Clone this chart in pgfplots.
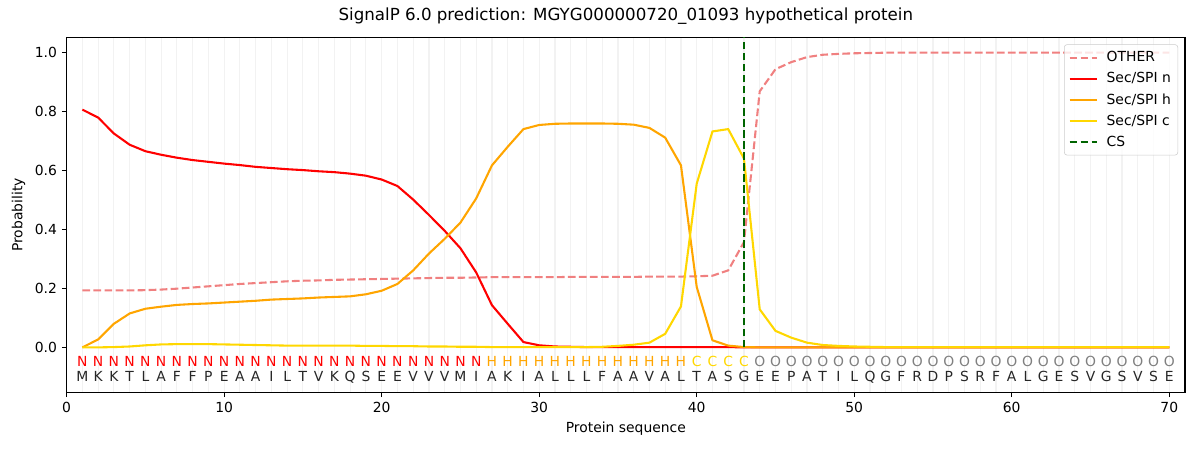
\documentclass[border=0pt]{standalone}
\usepackage{fontspec}
\setmainfont{DejaVu Sans}
\usepackage{pgfplots}
\pgfplotsset{compat=1.18}
\definecolor{lightcoral}{RGB}{240,128,128}
\definecolor{mporange}{RGB}{255,165,0}
\definecolor{mpgold}{RGB}{255,215,0}
\definecolor{mpgreen}{RGB}{0,100,0}
\definecolor{mpgray}{RGB}{128,128,128}
\begin{document}
\begin{tikzpicture}
\useasboundingbox (-48pt,-41.5pt) rectangle (816pt,282.5pt);
\begin{axis}[
  at={(0,0)}, anchor=south west,
  scale only axis, width=805.2pt, height=255.6pt,
  xmin=0, xmax=71, ymin=-0.1525, ymax=1.051,
  xtick={0,10,20,30,40,50,60,70},
  ytick={0,0.2,0.4,0.6,0.8,1.0},
  minor xtick={1,2,3,4,5,6,7,8,9,10,11,12,13,14,15,16,17,18,19,20,21,22,23,24,25,26,27,28,29,30,31,32,33,34,35,36,37,38,39,40,41,42,43,44,45,46,47,48,49,50,51,52,53,54,55,56,57,58,59,60,61,62,63,64,65,66,67,68,69,70},
  xminorgrids=true, minor tick length=0pt,
  minor grid style={color=black!5, line width=0.8pt},
  tick align=outside, major tick length=3.5pt,
  every tick/.style={black, line width=0.8pt},
  xtick pos=bottom, ytick pos=left,
  axis line style={line width=0.8pt},
  /pgf/number format/assume math mode=true,
  ticklabel style={font=\fontsize{10}{12}\selectfont},
  yticklabel style={/pgf/number format/.cd, fixed, fixed zerofill, precision=1},
  xlabel={Protein sequence}, ylabel={Probability},
  label style={font=\fontsize{10}{12}\selectfont},
  title={SignalP 6.0 prediction: MGYG000000720\_01093 hypothetical protein},
  title style={font=\fontsize{12}{14}\selectfont},
  legend style={at={(1,1)}, anchor=north east, xshift=-5pt, yshift=-5pt,
    draw=black!20, rounded corners=2pt, fill=white, fill opacity=0.8, text opacity=1,
    font=\fontsize{10}{12}\selectfont, row sep=2.2pt, inner xsep=3pt, inner ysep=3pt,
    /tikz/every odd column/.append style={column sep=4pt}},
  legend cell align=left,
  legend image code/.code={\draw[#1] (0pt,0pt) -- (20pt,0pt);},
]
\addplot[lightcoral, line width=1.5pt, dash pattern=on 5.55pt off 2.4pt] table {
1 0.193
2 0.193
3 0.193
4 0.193
5 0.194
6 0.196
7 0.199
8 0.203
9 0.207
10 0.211
11 0.215
12 0.218
13 0.221
14 0.224
15 0.226
16 0.227
17 0.229
18 0.230
19 0.231
20 0.232
21 0.233
22 0.234
23 0.235
24 0.236
25 0.236
26 0.237
27 0.238
28 0.238
29 0.238
30 0.238
31 0.238
32 0.239
33 0.239
34 0.239
35 0.239
36 0.239
37 0.240
38 0.240
39 0.240
40 0.241
41 0.243
42 0.261
43 0.357
44 0.868
45 0.943
46 0.967
47 0.984
48 0.992
49 0.995
50 0.997
51 0.998
52 0.999
53 0.999
54 0.999
55 0.999
56 0.999
57 0.999
58 0.999
59 0.999
60 0.999
61 0.999
62 0.999
63 0.999
64 0.999
65 0.999
66 0.999
67 0.999
68 0.999
69 0.999
70 0.999
};
\addlegendentry{OTHER}
\addplot[red, line width=1.5pt] table {
1 0.806
2 0.779
3 0.725
4 0.687
5 0.665
6 0.653
7 0.643
8 0.635
9 0.629
10 0.623
11 0.618
12 0.612
13 0.608
14 0.604
15 0.601
16 0.597
17 0.594
18 0.589
19 0.582
20 0.569
21 0.547
22 0.501
23 0.449
24 0.395
25 0.336
26 0.254
27 0.143
28 0.080
29 0.018
30 0.007
31 0.003
32 0.002
33 0.001
34 0.001
35 0.001
36 0.001
37 0.001
38 0.001
39 0.001
40 0.001
41 0.001
42 0.001
43 0.000
44 0.000
45 0.000
46 0.000
47 0.000
48 0.000
49 0.000
50 0.000
51 0.000
52 0.000
53 0.000
54 0.000
55 0.000
56 0.000
57 0.000
58 0.000
59 0.000
60 0.000
61 0.000
62 0.000
63 0.000
64 0.000
65 0.000
66 0.000
67 0.000
68 0.000
69 0.000
70 0.000
};
\addlegendentry{Sec/SPI n}
\addplot[mporange, line width=1.5pt] table {
1 0.000
2 0.027
3 0.080
4 0.115
5 0.131
6 0.138
7 0.144
8 0.147
9 0.149
10 0.152
11 0.155
12 0.158
13 0.162
14 0.164
15 0.166
16 0.169
17 0.171
18 0.173
19 0.180
20 0.192
21 0.215
22 0.261
23 0.318
24 0.368
25 0.423
26 0.505
27 0.617
28 0.680
29 0.740
30 0.754
31 0.758
32 0.759
33 0.759
34 0.759
35 0.758
36 0.755
37 0.744
38 0.711
39 0.617
40 0.205
41 0.024
42 0.006
43 0.001
44 0.000
45 0.000
46 0.000
47 0.000
48 0.000
49 0.000
50 0.000
51 0.000
52 0.000
53 0.000
54 0.000
55 0.000
56 0.000
57 0.000
58 0.000
59 0.000
60 0.000
61 0.000
62 0.000
63 0.000
64 0.000
65 0.000
66 0.000
67 0.000
68 0.000
69 0.000
70 0.000
};
\addlegendentry{Sec/SPI h}
\addplot[mpgold, line width=1.5pt] table {
1 0.000
2 0.000
3 0.001
4 0.003
5 0.007
6 0.010
7 0.011
8 0.011
9 0.011
10 0.010
11 0.009
12 0.008
13 0.007
14 0.006
15 0.006
16 0.006
17 0.006
18 0.006
19 0.005
20 0.005
21 0.004
22 0.004
23 0.003
24 0.003
25 0.002
26 0.002
27 0.001
28 0.001
29 0.001
30 0.001
31 0.001
32 0.001
33 0.001
34 0.002
35 0.005
36 0.009
37 0.016
38 0.046
39 0.139
40 0.555
41 0.732
42 0.740
43 0.640
44 0.129
45 0.056
46 0.033
47 0.016
48 0.008
49 0.005
50 0.003
51 0.002
52 0.001
53 0.001
54 0.001
55 0.001
56 0.001
57 0.001
58 0.001
59 0.001
60 0.001
61 0.001
62 0.001
63 0.001
64 0.001
65 0.001
66 0.001
67 0.001
68 0.001
69 0.001
70 0.001
};
\addlegendentry{Sec/SPI c}
\addplot[mpgreen, line width=1.5pt, dash pattern=on 5.55pt off 2.4pt] coordinates {(43,0) (43,1.051)};
\addlegendentry{CS}
% region labels
\addplot[forget plot, draw=none, mark=none, nodes near coords, point meta=explicit symbolic,
  every node near coord/.style={anchor=base, inner sep=0pt, text=red, font=\fontsize{10}{12}\selectfont}]
  table[meta=l] {
x y l
1 -0.064 N
2 -0.064 N
3 -0.064 N
4 -0.064 N
5 -0.064 N
6 -0.064 N
7 -0.064 N
8 -0.064 N
9 -0.064 N
10 -0.064 N
11 -0.064 N
12 -0.064 N
13 -0.064 N
14 -0.064 N
15 -0.064 N
16 -0.064 N
17 -0.064 N
18 -0.064 N
19 -0.064 N
20 -0.064 N
21 -0.064 N
22 -0.064 N
23 -0.064 N
24 -0.064 N
25 -0.064 N
26 -0.064 N
};
\addplot[forget plot, draw=none, mark=none, nodes near coords, point meta=explicit symbolic,
  every node near coord/.style={anchor=base, inner sep=0pt, text=mporange, font=\fontsize{10}{12}\selectfont}]
  table[meta=l] {
x y l
27 -0.064 H
28 -0.064 H
29 -0.064 H
30 -0.064 H
31 -0.064 H
32 -0.064 H
33 -0.064 H
34 -0.064 H
35 -0.064 H
36 -0.064 H
37 -0.064 H
38 -0.064 H
39 -0.064 H
};
\addplot[forget plot, draw=none, mark=none, nodes near coords, point meta=explicit symbolic,
  every node near coord/.style={anchor=base, inner sep=0pt, text=mpgold, font=\fontsize{10}{12}\selectfont}]
  table[meta=l] {
x y l
40 -0.064 C
41 -0.064 C
42 -0.064 C
43 -0.064 C
};
\addplot[forget plot, draw=none, mark=none, nodes near coords, point meta=explicit symbolic,
  every node near coord/.style={anchor=base, inner sep=0pt, text=mpgray, font=\fontsize{10}{12}\selectfont}]
  table[meta=l] {
x y l
44 -0.064 O
45 -0.064 O
46 -0.064 O
47 -0.064 O
48 -0.064 O
49 -0.064 O
50 -0.064 O
51 -0.064 O
52 -0.064 O
53 -0.064 O
54 -0.064 O
55 -0.064 O
56 -0.064 O
57 -0.064 O
58 -0.064 O
59 -0.064 O
60 -0.064 O
61 -0.064 O
62 -0.064 O
63 -0.064 O
64 -0.064 O
65 -0.064 O
66 -0.064 O
67 -0.064 O
68 -0.064 O
69 -0.064 O
70 -0.064 O
};
% residues
\addplot[forget plot, draw=none, mark=none, nodes near coords, point meta=explicit symbolic,
  every node near coord/.style={anchor=base, inner sep=0pt, text=black!85, font=\fontsize{10}{12}\selectfont}]
  table[meta=l] {
x y l
1 -0.115 M
2 -0.115 K
3 -0.115 K
4 -0.115 T
5 -0.115 L
6 -0.115 A
7 -0.115 F
8 -0.115 F
9 -0.115 P
10 -0.115 E
11 -0.115 A
12 -0.115 A
13 -0.115 I
14 -0.115 L
15 -0.115 T
16 -0.115 V
17 -0.115 K
18 -0.115 Q
19 -0.115 S
20 -0.115 E
21 -0.115 E
22 -0.115 V
23 -0.115 V
24 -0.115 V
25 -0.115 M
26 -0.115 I
27 -0.115 A
28 -0.115 K
29 -0.115 I
30 -0.115 A
31 -0.115 L
32 -0.115 L
33 -0.115 L
34 -0.115 F
35 -0.115 A
36 -0.115 A
37 -0.115 V
38 -0.115 A
39 -0.115 L
40 -0.115 T
41 -0.115 A
42 -0.115 S
43 -0.115 G
44 -0.115 E
45 -0.115 E
46 -0.115 P
47 -0.115 A
48 -0.115 T
49 -0.115 I
50 -0.115 L
51 -0.115 Q
52 -0.115 G
53 -0.115 F
54 -0.115 R
55 -0.115 D
56 -0.115 P
57 -0.115 S
58 -0.115 R
59 -0.115 F
60 -0.115 A
61 -0.115 L
62 -0.115 G
63 -0.115 E
64 -0.115 S
65 -0.115 V
66 -0.115 G
67 -0.115 S
68 -0.115 V
69 -0.115 S
70 -0.115 E
};
\end{axis}
\end{tikzpicture}
\end{document}
